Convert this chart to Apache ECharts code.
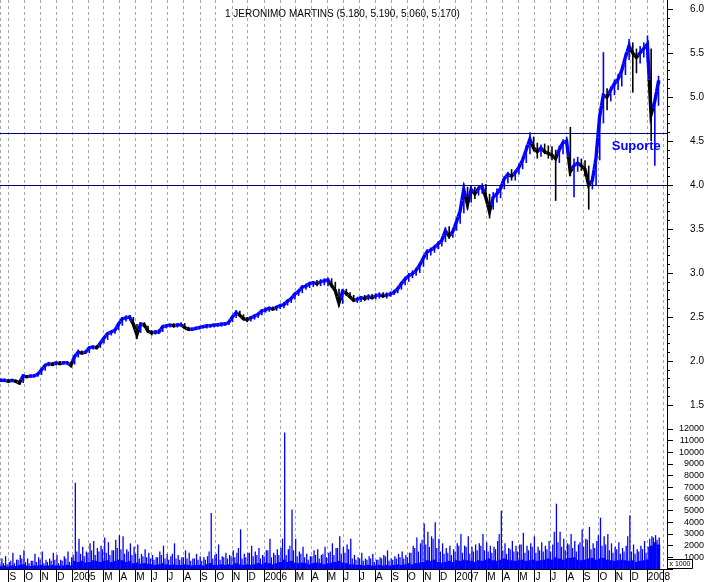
<!DOCTYPE html>
<html><head><meta charset="utf-8">
<script src="https://cdn.jsdelivr.net/npm/echarts@6/dist/echarts.min.js"></script>
<style>html,body{margin:0;padding:0;background:#fff}#c{width:707px;height:582px}</style>
</head><body><div id="c"></div>
<script>
// ---- chart data (weekly) ----
const titleText = '1 JERONIMO MARTINS (5.180, 5.190, 5.060, 5.170)';
const firstWeekMonday = [2004, 7, 16];
const monthLetters = ['J','F','M','A','M','J','J','A','S','O','N','D'];
const supportLevels = [4.0, 4.59];
const supportLabel = 'Suporte';

const high = [1.80,1.80,1.79,1.79,1.79,1.78,1.85,1.84,1.84,1.85,1.86,1.92,1.97,1.99,1.99,1.99,2.00,2.00,2.00,1.99,
2.07,2.13,2.12,2.12,2.16,2.18,2.18,2.22,2.28,2.33,2.35,2.37,2.44,2.50,2.52,2.52,2.50,2.42,2.44,2.44,
2.40,2.35,2.35,2.36,2.41,2.42,2.42,2.43,2.43,2.44,2.43,2.39,2.38,2.39,2.40,2.41,2.41,2.42,2.42,2.43,
2.43,2.44,2.46,2.52,2.58,2.57,2.53,2.50,2.51,2.53,2.55,2.59,2.61,2.62,2.62,2.63,2.65,2.67,2.70,2.73,
2.78,2.82,2.86,2.88,2.90,2.91,2.92,2.93,2.94,2.95,2.94,2.90,2.82,2.82,2.82,2.78,2.75,2.73,2.74,2.75,
2.76,2.76,2.77,2.78,2.78,2.78,2.79,2.81,2.85,2.90,2.96,3.00,3.03,3.06,3.12,3.20,3.27,3.29,3.32,3.36,
3.40,3.52,3.53,3.50,3.62,3.74,4.02,3.98,3.99,3.98,4.00,4.02,4.01,3.90,3.92,3.96,3.99,4.10,4.15,4.18,
4.17,4.24,4.32,4.45,4.60,4.55,4.48,4.46,4.47,4.45,4.44,4.40,4.45,4.52,4.55,4.66,4.30,4.32,4.30,4.28,
4.22,4.10,4.35,4.85,5.51,5.10,5.12,5.20,5.26,5.34,5.50,5.66,5.62,5.55,5.58,5.62,5.70,5.55,5.02,5.24];
const low = [1.76,1.77,1.76,1.76,1.76,1.73,1.75,1.81,1.81,1.82,1.82,1.84,1.89,1.94,1.95,1.95,1.96,1.96,1.96,1.93,
1.96,2.04,2.07,2.08,2.09,2.13,2.14,2.15,2.20,2.24,2.29,2.31,2.35,2.40,2.45,2.46,2.40,2.25,2.32,2.38,
2.32,2.29,2.30,2.31,2.33,2.37,2.38,2.38,2.38,2.39,2.37,2.34,2.34,2.35,2.36,2.37,2.37,2.38,2.38,2.39,
2.39,2.40,2.41,2.44,2.49,2.50,2.46,2.44,2.45,2.47,2.49,2.52,2.55,2.56,2.57,2.57,2.59,2.60,2.63,2.66,
2.70,2.74,2.77,2.81,2.83,2.84,2.85,2.85,2.86,2.85,2.83,2.78,2.62,2.65,2.74,2.71,2.67,2.66,2.67,2.68,
2.69,2.70,2.70,2.71,2.72,2.71,2.73,2.75,2.77,2.81,2.86,2.90,2.94,2.97,3.00,3.07,3.15,3.20,3.23,3.27,
3.30,3.35,3.39,3.40,3.48,3.56,3.68,3.72,3.80,3.84,3.88,3.90,3.82,3.62,3.72,3.80,3.85,3.95,4.02,4.05,
4.05,4.12,4.18,4.25,4.35,4.38,4.30,4.32,4.35,4.30,4.28,3.82,4.25,4.35,4.42,4.10,3.86,4.15,4.16,4.10,
3.72,3.95,4.00,4.28,4.70,4.85,4.95,5.02,5.08,5.12,5.25,5.42,5.05,5.27,5.38,5.45,5.40,4.50,4.22,4.90];
const close = [1.78,1.78,1.77,1.78,1.77,1.75,1.83,1.82,1.83,1.83,1.85,1.90,1.95,1.97,1.96,1.98,1.97,1.98,1.98,1.95,
2.05,2.10,2.09,2.10,2.15,2.16,2.15,2.20,2.26,2.31,2.33,2.35,2.42,2.48,2.49,2.50,2.42,2.30,2.42,2.41,
2.34,2.32,2.33,2.33,2.39,2.40,2.41,2.40,2.41,2.41,2.38,2.36,2.36,2.37,2.38,2.39,2.40,2.40,2.41,2.41,
2.42,2.42,2.44,2.50,2.55,2.52,2.48,2.47,2.49,2.51,2.53,2.57,2.58,2.60,2.59,2.61,2.63,2.64,2.68,2.71,
2.76,2.79,2.84,2.85,2.88,2.89,2.88,2.90,2.91,2.92,2.86,2.80,2.66,2.79,2.77,2.73,2.69,2.70,2.72,2.71,
2.73,2.72,2.74,2.75,2.74,2.75,2.76,2.78,2.82,2.88,2.93,2.97,2.99,3.03,3.09,3.17,3.24,3.26,3.29,3.33,
3.37,3.48,3.42,3.47,3.58,3.70,3.95,3.78,3.95,3.90,3.96,3.98,3.86,3.70,3.86,3.90,3.96,4.07,4.12,4.10,
4.14,4.20,4.28,4.40,4.52,4.42,4.38,4.42,4.38,4.36,4.34,4.30,4.40,4.48,4.50,4.15,4.22,4.25,4.22,4.18,
4.00,4.05,4.30,4.78,5.02,5.00,5.08,5.15,5.20,5.30,5.45,5.58,5.50,5.45,5.50,5.55,5.60,4.80,4.95,5.17];
// daily volume (axis units, x 1000 shares): weekly typical level, largest day, second largest day
const volBase = [250,300,200,300,250,350,400,300,250,300,300,350,300,300,350,300,300,300,350,300,
700,600,700,550,600,750,700,600,700,750,600,700,800,750,600,700,500,550,450,500,
450,400,350,400,500,400,350,400,350,350,400,350,300,350,350,300,400,500,350,350,
400,350,400,350,500,400,350,400,350,400,500,400,550,500,400,500,600,800,600,700,
550,500,550,500,400,500,550,500,400,500,550,600,700,550,500,400,400,350,350,300,
350,300,300,350,300,350,300,350,400,350,400,500,400,500,550,600,750,700,800,600,
550,600,700,600,750,700,800,750,700,600,750,700,800,900,750,700,800,900,800,750,
700,750,800,700,750,800,700,750,800,900,800,1000,900,800,900,950,1000,800,750,800,
900,950,800,900,950,800,750,700,750,800,750,700,750,600,700,750,800,2000,2300,2100];
const volPeak = [900,1100,600,1400,800,1200,1600,900,700,1300,1000,1500,800,900,1400,1200,800,1100,1500,1000,
7400,2600,1900,1500,2200,2400,1800,2000,2700,2300,1600,2500,2900,2800,1700,2200,1900,2100,1300,1700,
1400,1200,1000,1500,2000,1300,1100,2200,1200,1000,1600,1400,900,1300,1100,1000,1100,4800,1200,2100,
1100,1400,1200,1600,1400,3400,1300,1400,2000,1500,1800,1200,1600,2600,1400,1700,1800,11700,1700,5100,
2600,1500,1900,1300,1100,1600,1700,1200,1900,1400,2200,1800,2800,1900,2100,2600,1200,1000,1400,900,
1100,1300,800,1000,1200,1600,900,1100,1300,1500,1200,1400,2000,2700,2200,3900,3200,2800,4000,2600,
2200,1800,2000,1700,2200,3000,2000,2800,1900,2100,2200,3000,2300,2000,1900,2400,5000,2200,1800,2400,
2000,2100,3100,2000,2200,2800,1900,2300,2000,2400,2100,5600,3200,2600,2200,3000,2400,2100,3400,2600,
3600,2200,2400,4400,2800,3000,2200,1900,2300,1800,2000,4600,2100,1700,2000,2400,1900,2800,2900,2700];
const volSecond = [600,500,400,700,500,800,900,600,500,700,600,800,500,600,700,800,500,700,900,600,
1200,1500,1300,1100,1400,1600,1200,1500,1700,1400,1200,1600,1800,1700,1300,1500,
1200,1300,900,1100,1000,900,800,1000,1200,900,800,1300,900,800,1000,900,700,900,800,700,
800,1500,900,1300,800,1000,900,1100,1000,1800,900,1000,1400,1100,1200,900,1100,1600,1000,1200,
1200,2600,1200,2000,1600,1100,1300,1000,800,1100,1200,900,1300,1000,1500,1200,1800,1300,1400,1700,900,800,
900,700,800,900,600,800,900,1100,700,800,900,1000,900,1000,1400,1800,1500,
2500,2100,1900,2600,1800,1500,
1300,1400,1200,1500,2000,1400,1900,1300,1500,1600,2000,1600,1500,1400,1700,3000,1600,1300,1700,1500,1500,2100,1400,1600,1900,1400,1600,1500,1700,1500,
3200,2300,1900,1600,2100,1800,1500,2300,1900,2500,1700,1800,2900,2000,2100,
1600,1400,1700,1300,1500,2800,1500,1300,1500,1700,1400,
2600,2700,2500];

// ---- build ----
const DAY = 86400000;
const t0 = new Date(firstWeekMonday[0], firstWeekMonday[1], firstWeekMonday[2]).getTime();
const weekTimes = high.map((_, i) => t0 + (7 * i + 2) * DAY);
const xMin = t0;
const xMax = t0 + 1271.4 * DAY;
const n = close.length;

const priceData = weekTimes.map((t, i) => [
  t, high[i], low[i], close[i],
  close[Math.max(0, i - 1)], close[Math.min(n - 1, i + 1)],
  (i === 0 || close[i] >= close[i - 1]) ? 1 : 0
]);
const volData = weekTimes.map((t, i) => [t, volBase[i], volPeak[i], volSecond[i]]);

const BLUE = '#0000ff';
const chart = echarts.init(document.getElementById('c'), null, {renderer: 'canvas'});

function renderPrice(params, api) {
  const t = api.value(0);
  const col = api.value(6) ? BLUE : '#000000';
  const pH = api.coord([t, api.value(1)]);
  const pL = api.coord([t, api.value(2)]);
  const c = api.coord([t, api.value(3)]);
  const pc = api.coord([t - 7 * DAY, api.value(4)]);
  const nc = api.coord([t + 7 * DAY, api.value(5)]);
  const left = [(pc[0] + c[0]) / 2, (pc[1] + c[1]) / 2];
  const right = [(nc[0] + c[0]) / 2, (nc[1] + c[1]) / 2];
  return {
    type: 'group',
    children: [
      {type: 'polyline', shape: {points: [left, c, right]},
        style: {stroke: col, lineWidth: 3.4, fill: null, lineJoin: 'miter', lineCap: 'butt'}},
      {type: 'rect', shape: {x: c[0] - 0.7, y: pH[1], width: 1.6, height: Math.max(1, pL[1] - pH[1])},
        style: {fill: col}}
    ]
  };
}
function renderVol(params, api) {
  const t = api.value(0);
  const base = api.coord([t, 0]);
  const pB = api.coord([t, api.value(1)]);
  const pP = api.coord([t, api.value(2)]);
  const pS = api.coord([t, api.value(3)]);
  const w = api.size([7 * DAY, 0])[0];
  return {
    type: 'group',
    children: [
      {type: 'rect', shape: {x: pB[0] - w / 2, y: pB[1], width: w, height: base[1] - pB[1]}, style: {fill: BLUE}},
      {type: 'rect', shape: {x: pS[0] - 1.9, y: pS[1], width: 1.2, height: base[1] - pS[1]}, style: {fill: BLUE}},
      {type: 'rect', shape: {x: pP[0] + 0.2, y: pP[1], width: 1.3, height: base[1] - pP[1]}, style: {fill: BLUE}}
    ]
  };
}

const font = 'Liberation Sans';
const option = {
  animation: false,
  backgroundColor: '#ffffff',
  textStyle: {fontFamily: font},
  title: {
    text: titleText, left: 220, top: 4,
    textStyle: {fontSize: 10, fontWeight: 'normal', color: '#000', fontFamily: font}
  },
  grid: [
    {left: 0, right: 40, top: 0, bottom: 13},
    {left: 0, right: 40, top: 9, height: 396},
    {left: 0, right: 40, top: 429, bottom: 13}
  ],
  xAxis: [
    {
      type: 'time', gridIndex: 0, min: xMin, max: xMax,
      minInterval: 28 * DAY, maxInterval: 31 * DAY,
      axisLine: {show: true, lineStyle: {color: '#000', width: 1}},
      axisTick: {show: true, length: 13, lineStyle: {color: '#000'}},
      splitLine: {show: true, lineStyle: {color: '#a8a8a8', type: [3, 3], width: 1}},
      axisLabel: {
        show: true, interval: 0, hideOverlap: false, showMinLabel: false, showMaxLabel: false,
        align: 'left', margin: 3, padding: [0, 0, 0, 1], fontSize: 10, color: '#000', fontFamily: font,
        formatter: function (val) {
          const d = new Date(val);
          if (d.getDate() !== 1) return '';
          const m = d.getMonth();
          if (m === 0) return String(d.getFullYear());
          if (m === 1) return '';
          return monthLetters[m];
        }
      }
    },
    {type: 'time', gridIndex: 1, min: xMin, max: xMax, show: false},
    {type: 'time', gridIndex: 2, min: xMin, max: xMax, show: false}
  ],
  yAxis: [
    {
      type: 'value', gridIndex: 0, position: 'right', min: 0, max: 1,
      axisLine: {show: true, lineStyle: {color: '#000'}},
      axisTick: {show: false}, axisLabel: {show: false}, splitLine: {show: false}
    },
    {
      type: 'value', gridIndex: 1, position: 'right', min: 1.5, max: 6.0, interval: 0.5,
      axisLine: {show: true, lineStyle: {color: '#000'}},
      axisTick: {show: true, length: 6, lineStyle: {color: '#000'}},
      minorTick: {show: true, splitNumber: 5, length: 3, lineStyle: {color: '#000'}},
      splitLine: {show: false},
      axisLabel: {
        align: 'right', margin: 37, fontSize: 10, color: '#000', fontFamily: font,
        formatter: v => v.toFixed(1)
      }
    },
    {
      type: 'value', gridIndex: 2, position: 'right', min: 0, max: 12000, interval: 1000,
      axisLine: {show: true, lineStyle: {color: '#000'}},
      axisTick: {show: true, length: 6, lineStyle: {color: '#000'}},
      splitLine: {show: false},
      axisLabel: {
        align: 'right', margin: 37, fontSize: 9, color: '#000', fontFamily: font,
        formatter: v => (v === 0 ? '' : String(v))
      }
    }
  ],
  graphic: [
    {
      type: 'group', left: 667, top: 559, z: 100,
      children: [
        {type: 'rect', shape: {x: 0, y: 0, width: 25, height: 9}, style: {fill: '#fff', stroke: '#000', lineWidth: 1}},
        {type: 'text', x: 2, y: 1.5, style: {text: 'x 1000', fontSize: 7, fill: '#000', fontFamily: font}}
      ]
    }
  ],
  series: [
    {
      type: 'custom', name: 'price', xAxisIndex: 1, yAxisIndex: 1, clip: true,
      renderItem: renderPrice, data: priceData, encode: {x: 0, y: [1, 2]},
      markLine: {
        silent: true, symbol: 'none', animation: false,
        label: {show: false},
        lineStyle: {color: '#000080', width: 1, type: 'solid'},
        data: supportLevels.map(v => ({yAxis: v}))
      },
      markPoint: {
        silent: true, symbol: 'circle', symbolSize: 0,
        itemStyle: {color: 'rgba(0,0,0,0)'},
        label: {show: true, position: 'right', distance: 0, formatter: supportLabel,
          color: BLUE, fontWeight: 'bold', fontSize: 13, fontFamily: font},
        data: [{coord: [new Date(2007, 9, 26).getTime(), 4.44]}]
      }
    },
    {
      type: 'custom', name: 'volume', xAxisIndex: 2, yAxisIndex: 2, clip: true,
      renderItem: renderVol, data: volData, encode: {x: 0, y: [1, 2, 3]}
    }
  ]
};
chart.setOption(option);
</script>
</body></html>
